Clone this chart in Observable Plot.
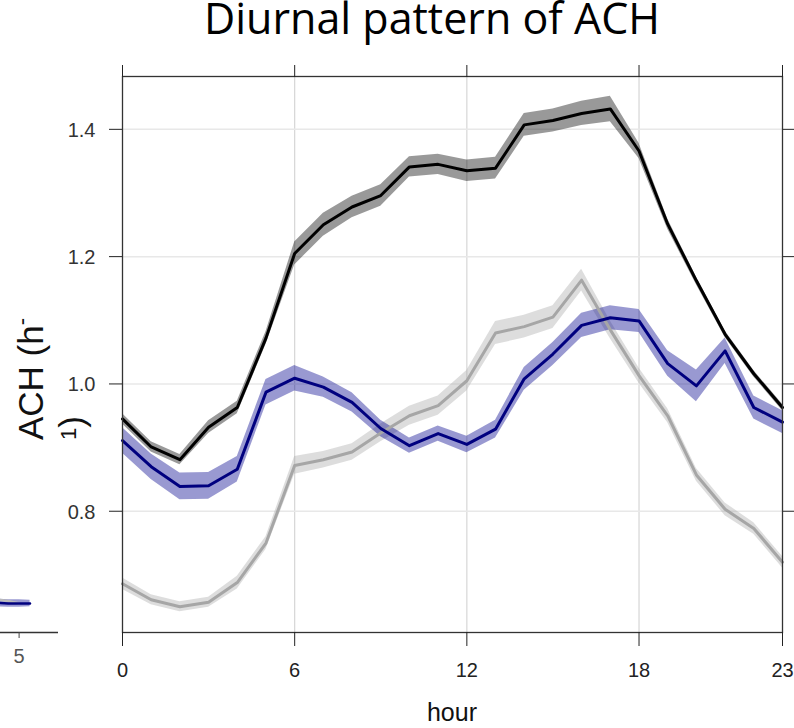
<!DOCTYPE html>
<html>
<head>
<meta charset="utf-8">
<script src="https://cdn.jsdelivr.net/npm/d3@7"></script>
<script src="https://cdn.jsdelivr.net/npm/@observablehq/plot@0.6"></script>
<style>
  html, body { margin: 0; padding: 0; background: #fff; }
  #wrap { position: relative; width: 794px; height: 728px; overflow: hidden; }
  #wrap svg { position: absolute; left: 0; top: 0; }
</style>
</head>
<body>
<div id="wrap"></div>
<script>
// ---- data ----
const hours = [0,1,2,3,4,5,6,7,8,9,10,11,12,13,14,15,16,17,18,19,20,21,22,23];
const xTicks = [0, 6, 12, 18, 23];
const yTicks = [0.8, 1.0, 1.2, 1.4];

const blackValues = [0.945,0.901,0.881,0.932,0.963,1.072,1.205,1.250,1.278,1.296,1.341,1.345,1.335,1.339,1.407,1.414,1.425,1.432,1.366,1.251,1.162,1.078,1.016,0.963];
const blackSE     = [0.008,0.008,0.008,0.010,0.010,0.010,0.018,0.018,0.017,0.017,0.016,0.016,0.017,0.017,0.018,0.018,0.019,0.020,0.012,0.008,0.006,0.005,0.005,0.005];

const grayValues  = [0.686,0.661,0.650,0.657,0.688,0.750,0.872,0.881,0.893,0.923,0.950,0.966,1.005,1.080,1.090,1.105,1.163,1.085,1.013,0.950,0.857,0.803,0.773,0.720];
const graySE      = [0.009,0.008,0.008,0.008,0.010,0.010,0.014,0.013,0.013,0.014,0.015,0.015,0.016,0.018,0.018,0.018,0.017,0.014,0.012,0.011,0.010,0.010,0.009,0.009];

const blueValues  = [0.911,0.870,0.839,0.840,0.866,0.987,1.009,0.995,0.971,0.930,0.903,0.922,0.905,0.929,1.008,1.047,1.092,1.104,1.099,1.032,0.997,1.052,0.963,0.940];
const blueSE      = [0.020,0.020,0.021,0.021,0.020,0.020,0.020,0.016,0.015,0.013,0.012,0.012,0.013,0.014,0.018,0.018,0.019,0.019,0.018,0.020,0.025,0.020,0.018,0.018];

// neighbouring panel fragment (cut off at the left edge)
const fragX     = [3, 4, 5, 6];
const fragBlue  = [0.656, 0.655, 0.655, 0.655];
const fragBlueSE= [0.006, 0.006, 0.006, 0.005];
const fragGray  = [0.661, 0.659, 0.655, 0.655];
const fragTicks = [5];

const yDomain = [0.6095, 1.483];

const rows = (vals, se) => hours.map((h, i) => ({hour: h, value: vals[i], lo: vals[i] - se[i], hi: vals[i] + se[i]}));
const black = rows(blackValues, blackSE);
const gray = rows(grayValues, graySE);
const blue = rows(blueValues, blueSE);

const font = "Liberation Sans, Arial, sans-serif";

const chart = Plot.plot({
  width: 794,
  height: 728,
  marginLeft: 122,
  marginRight: 12,
  marginTop: 76,
  marginBottom: 96,
  style: {fontFamily: font, fontSize: "20px", background: "transparent", color: "#333"},
  x: {domain: [0, 23], axis: null},
  y: {domain: yDomain, axis: null},
  marks: [
    Plot.gridX([6, 12, 18], {stroke: "#d6d6d6", strokeOpacity: 1, strokeWidth: 1.2}),
    Plot.gridY(yTicks, {stroke: "#e8e8e8", strokeOpacity: 1, strokeWidth: 1.5}),
    Plot.areaY(gray, {x: "hour", y1: "lo", y2: "hi", fill: "#aaaaaa", fillOpacity: 0.4}),
    Plot.areaY(black, {x: "hour", y1: "lo", y2: "hi", fill: "#000000", fillOpacity: 0.4}),
    Plot.areaY(blue, {x: "hour", y1: "lo", y2: "hi", fill: "#00008b", fillOpacity: 0.4}),
    Plot.lineY(gray, {x: "hour", y: "value", stroke: "#a6a6a6", strokeWidth: 3}),
    Plot.lineY(blue, {x: "hour", y: "value", stroke: "#00007f", strokeWidth: 3}),
    Plot.lineY(black, {x: "hour", y: "value", stroke: "#000000", strokeWidth: 3}),
    Plot.frame({stroke: "#333", strokeWidth: 1.3}),
    // tick marks on all four sides
    Plot.axisX({anchor: "bottom", ticks: xTicks, tickSize: 14, label: null, stroke: "#222", fill: "none"}),
    Plot.axisX({anchor: "top", ticks: xTicks, tickSize: 12, label: null, stroke: "#222", fill: "none"}),
    Plot.axisY({anchor: "left", ticks: yTicks, tickSize: 13, label: null, stroke: "#222", fill: "none"}),
    Plot.axisY({anchor: "right", ticks: yTicks, tickSize: 12, label: null, stroke: "#222", fill: "none"}),
    // tick labels
    Plot.text(xTicks, {x: d => d, frameAnchor: "bottom", lineAnchor: "top", dy: 30, text: d => String(d), fontSize: 20, fill: "#222"}),
    Plot.text(yTicks, {y: d => d, frameAnchor: "left", textAnchor: "end", lineAnchor: "middle", dx: -27, dy: 1, text: d3.format(".1f"), fontSize: 20, fill: "#333"})
  ]
});

const svg = d3.select(chart.tagName.toLowerCase() === "svg" ? chart : chart.querySelector("svg"));

// title
svg.append("text")
  .attr("x", 432).attr("y", 34)
  .attr("text-anchor", "middle")
  .attr("font-family", "'Open Sans', sans-serif")
  .attr("font-size", 43)
  .attr("fill", "#000")
  .text("Diurnal pattern of ACH");

// x label
svg.append("text")
  .attr("x", 452).attr("y", 721)
  .attr("text-anchor", "middle")
  .attr("font-family", font)
  .attr("font-size", 25)
  .attr("fill", "#111")
  .text("hour");

// y label (wrapped in two lines as in the original)
const yl1 = svg.append("text")
  .attr("transform", "translate(43,440) rotate(-90)")
  .attr("text-anchor", "start")
  .attr("font-family", font)
  .attr("font-size", 35)
  .attr("fill", "#111");
yl1.append("tspan").text("ACH (h");
yl1.append("tspan").attr("font-size", 22).attr("dy", -14).text("-");

const yl2 = svg.append("text")
  .attr("transform", "translate(84,440) rotate(-90)")
  .attr("text-anchor", "start")
  .attr("font-family", font)
  .attr("font-size", 35)
  .attr("fill", "#111");
yl2.append("tspan").attr("font-size", 22).attr("dy", -8).text("1");
yl2.append("tspan").attr("dy", 8).text(")");

document.getElementById("wrap").appendChild(chart);

// fragment of neighbouring panel
const fragData = fragX.map((x, i) => ({x, blue: fragBlue[i], lo: fragBlue[i] - fragBlueSE[i], hi: fragBlue[i] + fragBlueSE[i], gray: fragGray[i]}));
const frag = Plot.plot({
  width: 60,
  height: 728,
  marginLeft: 0,
  marginRight: 2,
  marginTop: 76,
  marginBottom: 96,
  style: {fontFamily: font, fontSize: "20px", background: "transparent", color: "#555"},
  x: {domain: [3.3, 8.6], axis: null},
  y: {domain: yDomain, axis: null},
  marks: [
    Plot.areaY(fragData, {x: "x", y1: "lo", y2: "hi", fill: "#00008b", fillOpacity: 0.4, clip: true}),
    Plot.lineY(fragData.slice(0, 3), {x: "x", y: "gray", stroke: "#bbbbbb", strokeWidth: 2.5, clip: true}),
    Plot.lineY(fragData, {x: "x", y: "blue", stroke: "#00007f", strokeWidth: 2.5, clip: true}),
    Plot.ruleY([yDomain[0]], {stroke: "#333", strokeWidth: 1.3}),
    Plot.axisX({anchor: "bottom", ticks: fragTicks, tickSize: 6, label: null, stroke: "#444", fill: "none"}),
    Plot.text(fragTicks, {x: d => d, frameAnchor: "bottom", lineAnchor: "top", dy: 16, text: d => String(d), fontSize: 20, fill: "#555"})
  ]
});
document.getElementById("wrap").appendChild(frag);
</script>
</body>
</html>
